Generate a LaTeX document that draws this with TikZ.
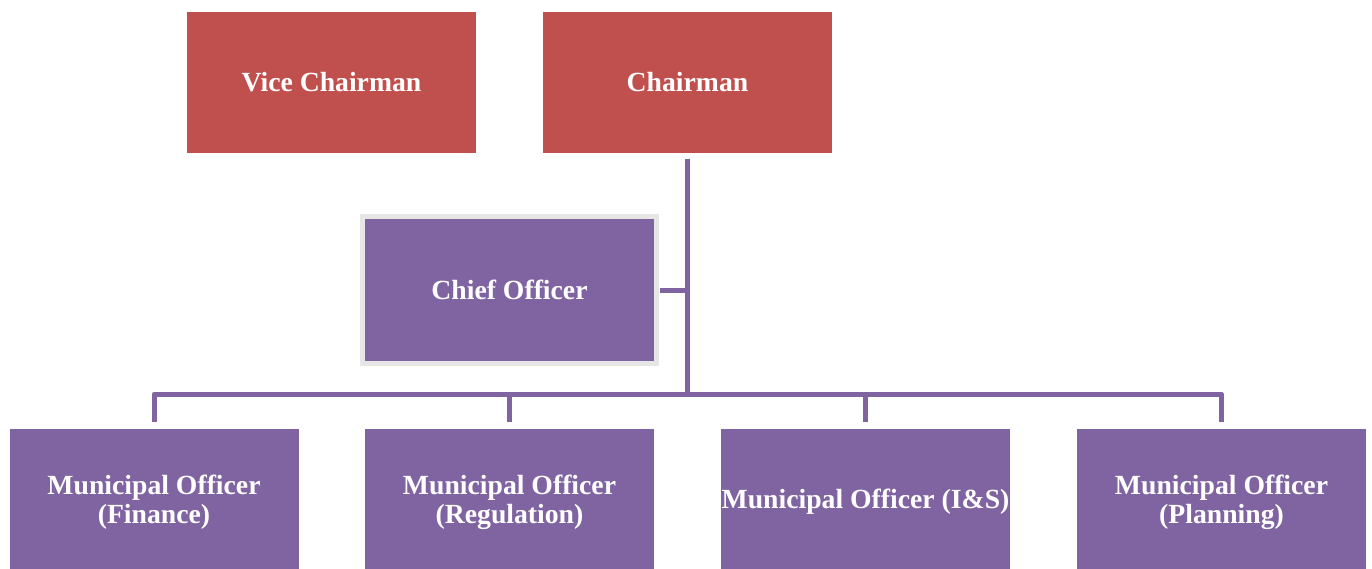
\documentclass[tikz,border=0pt]{standalone}
\usepackage{fontspec}
\setmainfont{Liberation Serif}
\definecolor{boxred}{HTML}{C0504D}
\definecolor{boxpurple}{HTML}{8064A2}
\definecolor{framegray}{HTML}{E6E6E6}
\begin{document}
\begin{tikzpicture}[x=1pt,y=-1pt,
  box/.style={rectangle, draw=none, text=white, align=center,
    minimum width=289pt, minimum height=141pt, inner sep=0pt,
    font=\fontsize{27.7}{29}\selectfont\bfseries},
  redbox/.style={box, fill=boxred},
  purplebox/.style={box, fill=boxpurple},
  conn/.style={draw=boxpurple, line width=5pt, line join=round}]
\useasboundingbox (0,0) rectangle (1372,568);
\node[redbox] (vice) at (331.5,82) {Vice Chairman};
\node[redbox] (chair) at (687.5,82) {Chairman};
\node[purplebox, draw=framegray, line width=5pt, minimum width=294pt, minimum height=147pt] (chief) at (509.5,290) {Chief Officer};
\node[purplebox, minimum height=146pt] (fin) at (154,502) {Municipal Officer\\(Finance)};
\node[purplebox, minimum height=146pt] (reg) at (509.5,502) {Municipal Officer\\(Regulation)};
\node[purplebox, minimum height=146pt] (ins) at (865.5,502) {Municipal Officer (I\&S)};
\node[purplebox, minimum height=146pt] (pla) at (1221.5,502) {Municipal Officer\\(Planning)};
\coordinate (bus) at (688,394);
\draw[conn] ([yshift=-6pt]chair.south) -- (chair.south |- bus);
\draw[conn] ([xshift=1pt]chief.east) -- (chief.east -| chair.south);
\draw[conn] ([yshift=7pt]fin.north) -- (fin.north |- bus) -- (pla.north |- bus) -- ([yshift=7pt]pla.north);
\draw[conn] (reg.north |- bus) -- ([yshift=7pt]reg.north);
\draw[conn] (ins.north |- bus) -- ([yshift=7pt]ins.north);
\end{tikzpicture}
\end{document}
